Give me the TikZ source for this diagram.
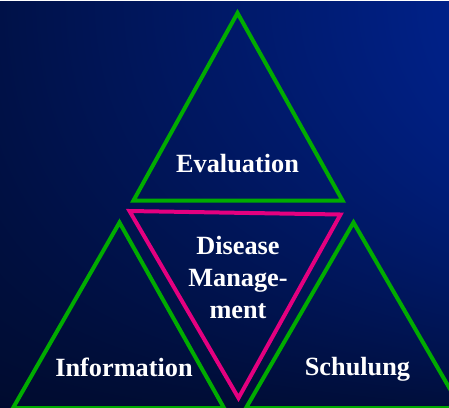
\documentclass[tikz,border=0pt]{standalone}
\usepackage{fontspec}
\setmainfont{Liberation Serif}
\pgfdeclarefunctionalshading{bgshade}{\pgfpoint{0bp}{0bp}}{\pgfpoint{449bp}{407bp}}{}{
  407 exch sub 407 div dup mul 0.8 mul
  exch 449 div 64 mul 72 add 255 div
  1 index 1 exch sub mul
  exch 0.157 mul add
  dup 0.24 mul
  0 3 1 roll
  exch
}
\definecolor{trigreen}{RGB}{0,172,0}
\definecolor{trimag}{RGB}{228,0,128}
\tikzset{
  tri/.style={line width=4bp, line join=miter},
  greentri/.style={tri, draw=trigreen},
  magtri/.style={tri, draw=trimag},
  lbl/.style={text=white, font=\fontsize{26.3bp}{32bp}\selectfont\bfseries, inner sep=0pt, anchor=base, align=center}
}
\begin{document}
\begin{tikzpicture}[x=1bp, y=-1bp]
\useasboundingbox (0,0) rectangle (449,407);
\clip (0,0) rectangle (449,407);
\node[inner sep=0pt, outer sep=0pt, anchor=north west] (bg) at (0,0) {\pgfuseshading{bgshade}};
% top triangle
\draw[greentri] (237.5,13) -- (133.5,200.5) -- (342.5,200.5) -- cycle;
% magenta inverted triangle
\draw[magtri] (129.5,211) -- (340.5,214.5) -- (238.5,398) -- cycle;
% left triangle
\draw[greentri] (119.5,222.5) -- (13,408) -- (224,408) -- cycle;
% right triangle
\draw[greentri] (353.5,222.5) -- (246,408) -- (461,408) -- cycle;
% labels
\node[lbl] (eval) at (237.5,172) {Evaluation};
\node[lbl, anchor=north] (dm) at (238,236) {Disease\\Manage-\\ment};
\node[lbl] (info) at (124,376) {Information};
\node[lbl] (schul) at (357.5,375) {Schulung};
\end{tikzpicture}
\end{document}
